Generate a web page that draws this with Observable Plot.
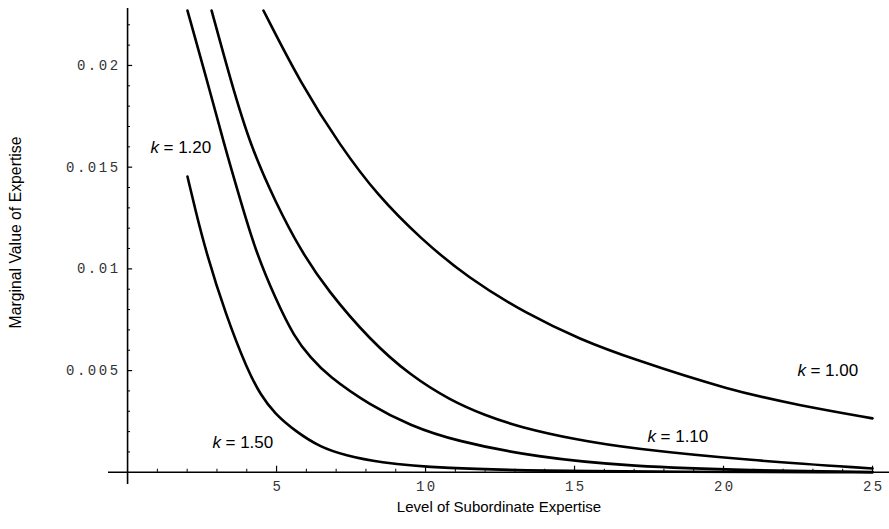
<!DOCTYPE html>
<html>
<head>
<meta charset="utf-8">
<script src="https://cdn.jsdelivr.net/npm/d3@7"></script>
<script src="https://cdn.jsdelivr.net/npm/@observablehq/plot@0.6"></script>
<style>
  html, body { margin: 0; padding: 0; background: #fff; }
  g[font-family*="Mono"] text { letter-spacing: 2.5px; }
</style>
</head>
<body>
<div id="chart"></div>
<script>
// Series (x = level of subordinate expertise, y = marginal value)
const k100x = [4.56, 5.81, 7.15, 8.39, 9.83, 11.41, 13.42, 15.2, 16.88, 20.23, 22.58, 25.0];
const k100y = [0.0227, 0.01911, 0.01602, 0.01361, 0.01149, 0.00957, 0.00776, 0.00653, 0.0056, 0.00402, 0.00328, 0.00265];

const k110x = [2.82, 3.46, 4.13, 4.97, 5.81, 6.71, 8.15, 9.49, 10.84, 12.01, 13.19, 15.03, 16.88, 20.91, 25.0];
const k110y = [0.0227, 0.01926, 0.01602, 0.01326, 0.0109, 0.00894, 0.00648, 0.00476, 0.00353, 0.00279, 0.00221, 0.00161, 0.00117, 0.00058, 0.00019];

const k120x = [2.01, 2.62, 3.26, 3.79, 4.29, 4.96, 5.6, 6.14, 6.71, 8.15, 9.49, 10.94, 13.76, 16.88, 20.91, 25.0];
const k120y = [0.0227, 0.01952, 0.01602, 0.01336, 0.0109, 0.00854, 0.00663, 0.00564, 0.00476, 0.00328, 0.0023, 0.00156, 0.00073, 0.00029, 0.00009, 0.00001];

const k150x = [2.01, 2.28, 2.62, 3.29, 4.03, 4.46, 4.93, 5.64, 6.48, 7.32, 8.39, 10.5, 14.53, 25.0];
const k150y = [0.01454, 0.01287, 0.0109, 0.00776, 0.005, 0.00382, 0.00289, 0.00201, 0.00122, 0.00083, 0.00049, 0.00019, 0.00004, 0.0];

// Curve labels
const labelK = ["1.00", "1.10", "1.20", "1.50"];
const labelX = [22.48, 17.45, 0.77, 2.85];
const labelY = [0.00501, 0.00176, 0.01597, 0.00146];

// Ticks
const xMajor = [5, 10, 15, 20, 25];
const xTickLabels = ["5", "10", "15", "20", "25"];
const yMajor = [0.005, 0.01, 0.015, 0.02];
const yTickLabels = ["0.005", "0.01", "0.015", "0.02"];
const xMinor = d3.range(1, 26).filter(v => v % 5 !== 0);
const yMinor = d3.range(1, 23).filter(v => v % 5 !== 0).map(v => v / 1000);

const toRows = (xs, ys, k) => xs.map((x, i) => ({x, y: ys[i], k}));
const curves = [
  ...toRows(k100x, k100y, "1.00"),
  ...toRows(k110x, k110y, "1.10"),
  ...toRows(k120x, k120y, "1.20"),
  ...toRows(k150x, k150y, "1.50")
];
const labels = labelK.map((k, i) => ({k, x: labelX[i], y: labelY[i]}));
const xt = xMajor.map((v, i) => ({v, t: xTickLabels[i]}));
const yt = yMajor.map((v, i) => ({v, t: yTickLabels[i]}));

const sans = "Liberation Sans, Arial, Helvetica, sans-serif";
const mono = "Liberation Mono, Courier New, monospace";

const chart = Plot.plot({
  width: 889,
  height: 529,
  marginLeft: 108,
  marginRight: 0,
  marginTop: 8,
  marginBottom: 45,
  style: {background: "#fff", color: "#000"},
  x: {domain: [-0.64, 25.57], axis: null},
  y: {domain: [-0.0006, 0.0228], axis: null},
  marks: [
    // axes through the origin
    Plot.ruleY([0], {stroke: "#000", strokeWidth: 1.6}),
    Plot.ruleX([0], {stroke: "#000", strokeWidth: 1.6}),
    // ticks
    Plot.ruleY(yMajor, {x1: 0, x2: 0.17, stroke: "#000", strokeWidth: 1.2}),
    Plot.ruleY(yMinor, {x1: 0, x2: 0.1, stroke: "#000", strokeWidth: 1}),
    Plot.ruleX(xMajor, {y1: 0, y2: 0.0003, stroke: "#000", strokeWidth: 1.2}),
    Plot.ruleX(xMinor, {y1: 0, y2: 0.00015, stroke: "#000", strokeWidth: 1}),
    // tick labels
    Plot.text(yt, {x: 0, y: "v", text: "t", textAnchor: "end", dx: -7, fontFamily: mono, fontSize: 14, fill: "#333"}),
    Plot.text(xt, {x: "v", y: 0, text: "t", dy: 14, dx: 1.3, fontFamily: mono, fontSize: 14, fill: "#333"}),
    // curves
    Plot.line(curves, {x: "x", y: "y", z: "k", curve: "basis", stroke: "#000", strokeWidth: 2.6}),
    // curve labels
    Plot.text(labels, {x: "x", y: "y", text: () => "k", fontStyle: "italic", textAnchor: "start", fontFamily: sans, fontSize: 17, fill: "#000"}),
    Plot.text(labels, {x: "x", y: "y", text: d => "= " + d.k, textAnchor: "start", dx: 13, fontFamily: sans, fontSize: 17, fill: "#000"}),
    // axis titles
    Plot.text(["Marginal Value of Expertise"], {frameAnchor: "left", textAnchor: "middle", dx: -93, dy: -14, rotate: -90, fontFamily: sans, fontSize: 15.8, fill: "#000"}),
    Plot.text(["Level of Subordinate Expertise"], {frameAnchor: "bottom", textAnchor: "middle", dy: 27, fontFamily: sans, fontSize: 15, fill: "#000"})
  ]
});
document.getElementById("chart").appendChild(chart);
</script>
</body>
</html>
